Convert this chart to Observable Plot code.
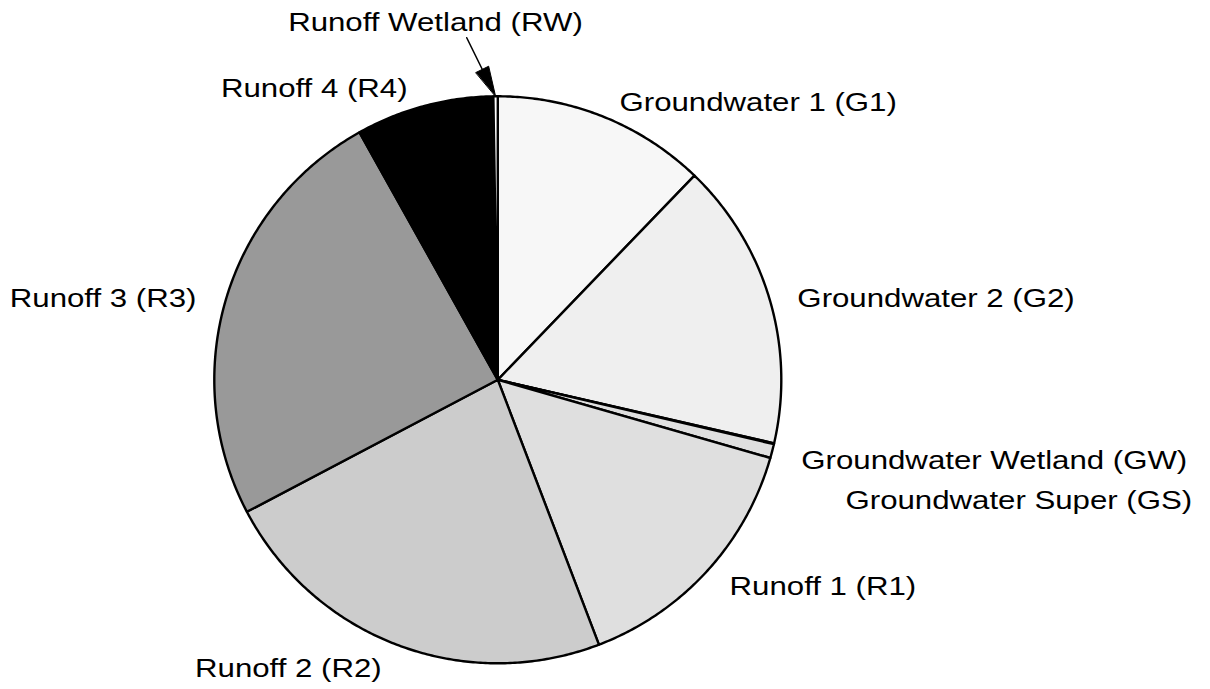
<!DOCTYPE html>
<html><head><meta charset="utf-8">
<script src="https://cdn.jsdelivr.net/npm/d3@7"></script>
<script src="https://cdn.jsdelivr.net/npm/@observablehq/plot@0.6"></script>
<style>html,body{margin:0;padding:0;background:#fff;} #chart svg{display:block;}</style>
</head><body><div id="chart"></div>
<script>
// ---- data ----
const codes  = ["G1", "G2", "GW", "GS", "R1", "R2", "R3", "R4", "RW"];
const names  = ["Groundwater 1 (G1)", "Groundwater 2 (G2)", "Groundwater Wetland (GW)", "Groundwater Super (GS)",
                "Runoff 1 (R1)", "Runoff 2 (R2)", "Runoff 3 (R3)", "Runoff 4 (R4)", "Runoff Wetland (RW)"];
const shares = [12.2, 16.4, 0.05, 0.8, 14.75, 23.1, 24.6, 7.86, 0.25];
const shades = ["#f7f7f7", "#efefef", "#e0e0e0", "#dfdfdf", "#dfdfdf", "#cccccc", "#999999", "#000000", "#ffffff"];

// ---- layout (not data) ----
const CX = 497.3, CY = 379.3, R = 283.5;
// label placement: [angle from 12 o'clock (deg), radius factor, text anchor]
const labelLayout = {
  G1: [23.7, 1.068, "start"], G2: [74.8, 1.095, "start"], GW: [104.9, 1.108, "start"],
  GS: [109.1, 1.298, "start"], R1: [131.7, 1.095, "start"], R2: [201.9, 1.098, "end"],
  R3: [285.1, 1.101, "end"], R4: [342.8, 1.076, "end"], RW: [350.1, 1.279, "middle"]
};
const arrowFrom = [354.8, 1.212];
const headLen = 0.106, headHalf = 0.025;
const textStretch = 1.2;

// ---- geometry from data ----
const rad = d => d * Math.PI / 180;
const polar = (deg, r) => [r * Math.sin(rad(deg)), r * Math.cos(rad(deg))];
const total = d3.sum(shares);
let acc = 0;
const slices = codes.map((c, i) => {
  const a0 = acc / total * 360; acc += shares[i]; const a1 = acc / total * 360;
  return {code: c, name: names[i], a0, a1, mid: (a0 + a1) / 2};
});
const wedgePts = [];
for (const s of slices) {
  wedgePts.push({code: s.code, x: 0, y: 0});
  const n = Math.max(2, Math.ceil((s.a1 - s.a0) / 0.5));
  for (let k = 0; k <= n; k++) {
    const [x, y] = polar(s.a0 + (s.a1 - s.a0) * k / n, 1);
    wedgePts.push({code: s.code, x, y});
  }
}
const labels = slices.map(s => {
  const [ang, r, anchor] = labelLayout[s.code];
  const [x, y] = polar(ang, r);
  return {x, y, text: s.name, anchor};
});
// arrow to RW slice
const rw = slices.find(s => s.code === "RW");
const tip = polar(rw.mid, 1);
const from = polar(...arrowFrom);
const dx = tip[0] - from[0], dy = tip[1] - from[1], L = Math.hypot(dx, dy);
const ux = dx / L, uy = dy / L;
const base = [tip[0] - ux * headLen, tip[1] - uy * headLen];
const shaft = [{x: from[0], y: from[1]}, {x: base[0], y: base[1]}];
const head = [
  {x: tip[0], y: tip[1]},
  {x: base[0] - uy * headHalf, y: base[1] + ux * headHalf},
  {x: base[0] + uy * headHalf, y: base[1] - ux * headHalf}
];

const textOpts = a => ({x: "x", y: "y", text: "text", textAnchor: a, lineAnchor: "middle", fill: "black"});

const chart = Plot.plot({
  width: 1210, height: 689, margin: 0,
  style: {fontFamily: "'Liberation Sans', Arial, sans-serif", fontSize: "26px", background: "white"},
  x: {domain: [-1, 1], range: [CX - R, CX + R], axis: null},
  y: {domain: [-1, 1], range: [CY + R, CY - R], axis: null},
  color: {domain: codes, range: shades},
  marks: [
    Plot.line(wedgePts, {x: "x", y: "y", z: "code", fill: "code", stroke: "black", strokeWidth: 2.4,
      strokeLinejoin: "round", curve: "linear-closed"}),
    Plot.line(shaft, {x: "x", y: "y", stroke: "black", strokeWidth: 1.4}),
    Plot.line(head, {x: "x", y: "y", fill: "black", stroke: "black", strokeWidth: 1, curve: "linear-closed"}),
    Plot.text(labels.filter(d => d.anchor === "start"), textOpts("start")),
    Plot.text(labels.filter(d => d.anchor === "end"), textOpts("end")),
    Plot.text(labels.filter(d => d.anchor === "middle"), textOpts("middle"))
  ]
});
document.getElementById("chart").appendChild(chart);
// widen glyphs horizontally to match the reference's wide lettering
chart.querySelectorAll("text").forEach(t => {
  const tr = t.getAttribute("transform");
  if (tr) t.setAttribute("transform", tr + ` scale(${textStretch},1)`);
  else {
    const x = +t.getAttribute("x") || 0, y = +t.getAttribute("y") || 0;
    t.removeAttribute("x"); t.removeAttribute("y");
    t.setAttribute("transform", `translate(${x},${y}) scale(${textStretch},1)`);
  }
});
</script></body></html>
